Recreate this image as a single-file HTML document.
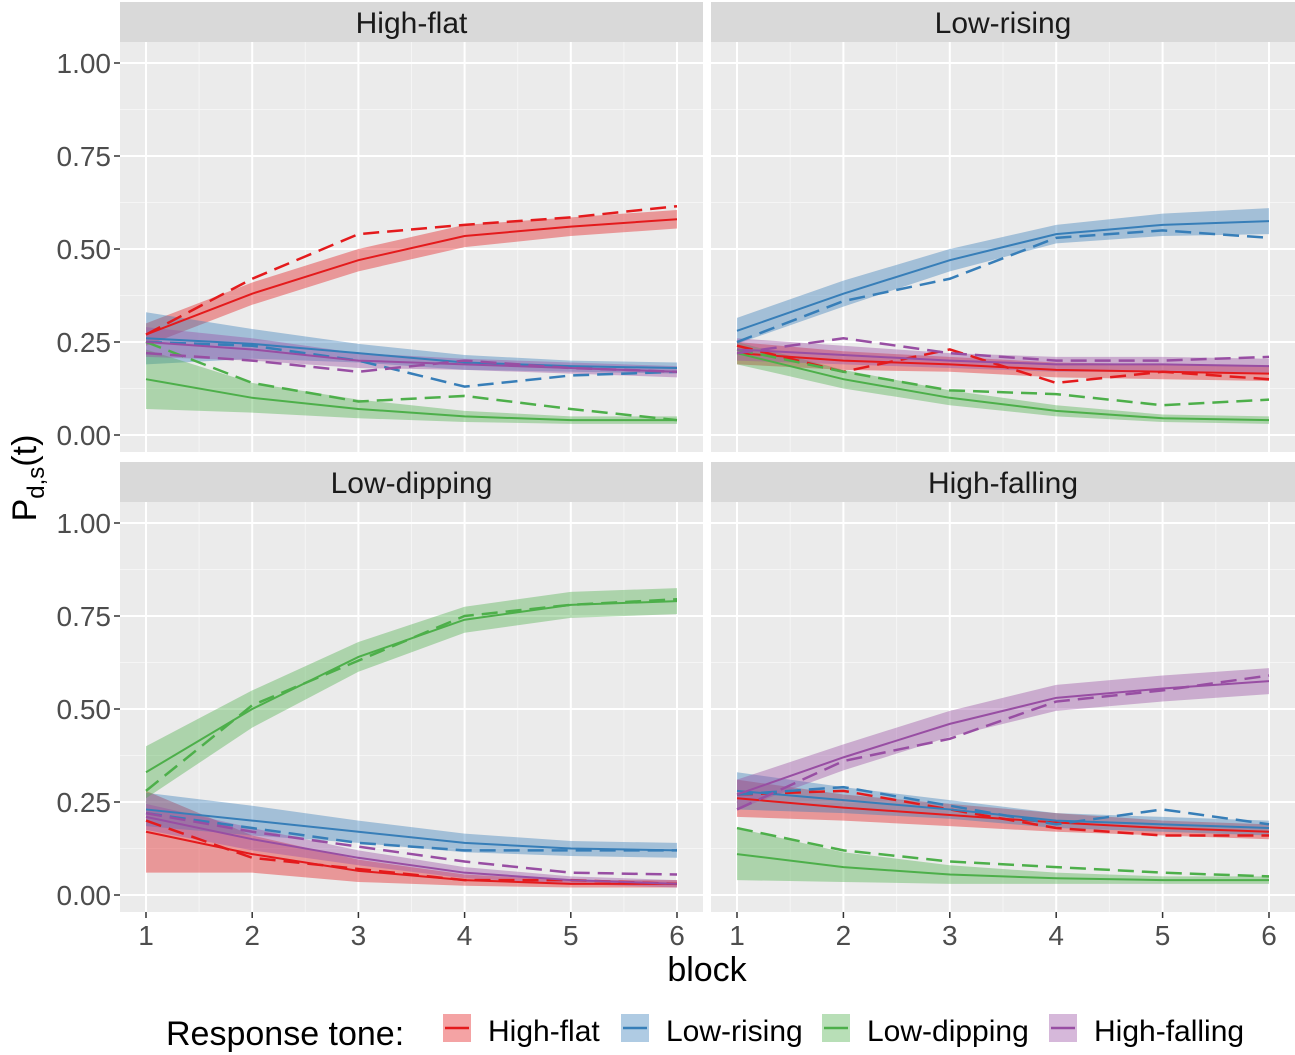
<!DOCTYPE html>
<html><head><meta charset="utf-8"><style>
body{margin:0;background:#fff;}
svg{display:block;font-family:"Liberation Sans",Arial,sans-serif;}
</style></head><body>
<svg id="c" width="1295" height="1055" xmlns="http://www.w3.org/2000/svg"></svg>
<script>
const blocks=[1,2,3,4,5,6];
const yTicks=[0,0.25,0.5,0.75,1];
const yTickLabels=["0.00","0.25","0.50","0.75","1.00"];
const panelTitles=["High-flat","Low-rising","Low-dipping","High-falling"];
const seriesNames=["High-flat","Low-rising","Low-dipping","High-falling"];
const colors=["#E41A1C","#377EB8","#4DAF4A","#984EA3"];
const model=[
 [[0.27,0.38,0.47,0.535,0.56,0.58],[0.26,0.245,0.22,0.195,0.185,0.18],[0.15,0.10,0.07,0.05,0.04,0.04],[0.25,0.23,0.20,0.19,0.18,0.17]],
 [[0.22,0.20,0.19,0.175,0.17,0.165],[0.28,0.38,0.47,0.54,0.565,0.575],[0.22,0.15,0.10,0.065,0.045,0.04],[0.23,0.215,0.20,0.19,0.19,0.185]],
 [[0.17,0.11,0.065,0.04,0.03,0.03],[0.23,0.20,0.17,0.14,0.125,0.12],[0.33,0.50,0.64,0.74,0.78,0.79],[0.21,0.15,0.10,0.06,0.04,0.03]],
 [[0.26,0.235,0.215,0.195,0.18,0.17],[0.28,0.255,0.23,0.20,0.19,0.18],[0.11,0.075,0.055,0.045,0.04,0.04],[0.27,0.37,0.46,0.53,0.555,0.575]]
];
const observed=[
 [[0.27,0.42,0.54,0.565,0.585,0.615],[0.25,0.24,0.20,0.13,0.16,0.17],[0.25,0.14,0.09,0.105,0.07,0.04],[0.22,0.20,0.17,0.20,0.18,0.17]],
 [[0.24,0.17,0.23,0.14,0.17,0.15],[0.25,0.36,0.42,0.53,0.55,0.53],[0.23,0.17,0.12,0.11,0.08,0.095],[0.22,0.26,0.22,0.20,0.20,0.21]],
 [[0.20,0.10,0.07,0.04,0.04,0.03],[0.22,0.18,0.14,0.12,0.12,0.12],[0.28,0.51,0.63,0.75,0.78,0.795],[0.22,0.17,0.13,0.09,0.06,0.055]],
 [[0.27,0.28,0.23,0.18,0.16,0.16],[0.27,0.29,0.24,0.19,0.23,0.19],[0.18,0.12,0.09,0.075,0.06,0.05],[0.23,0.36,0.42,0.52,0.55,0.59]]
];
const band=[
 [[0.03,0.03,0.03,0.03,0.025,0.025],[0.07,0.04,0.025,0.02,0.015,0.015],[0.08,0.04,0.025,0.015,0.01,0.01],[0.04,0.03,0.02,0.015,0.015,0.015]],
 [[0.03,0.025,0.02,0.02,0.02,0.02],[0.035,0.035,0.03,0.025,0.03,0.035],[0.03,0.025,0.02,0.015,0.01,0.01],[0.03,0.025,0.02,0.02,0.02,0.02]],
 [[0.11,0.05,0.03,0.015,0.01,0.01],[0.045,0.04,0.03,0.025,0.02,0.02],[0.07,0.05,0.04,0.035,0.035,0.035],[0.035,0.03,0.02,0.015,0.01,0.01]],
 [[0.05,0.035,0.03,0.025,0.02,0.02],[0.05,0.035,0.025,0.02,0.02,0.02],[0.07,0.04,0.025,0.015,0.01,0.01],[0.04,0.035,0.035,0.035,0.035,0.035]]
];
const svg=document.getElementById('c');
const NS="http://www.w3.org/2000/svg";
function mk(tag,attrs,parent){const e=document.createElementNS(NS,tag);for(const k in attrs)e.setAttribute(k,attrs[k]);(parent||svg).appendChild(e);return e;}
const panels=[{x0:120,x1:703,y0:42,y1:452},{x0:711,x1:1295,y0:42,y1:452},{x0:120,x1:703,y0:502,y1:912},{x0:711,x1:1295,y0:502,y1:912}];
panels.forEach((p,pi)=>{
 const xs=v=>p.x0+26+(v-1)*(p.x1-p.x0-52)/5;
 const ys=v=>p.y1-17-v*372;
 const g=mk('g',{});
 
 
 mk('rect',{x:p.x0,y:p.y0,width:p.x1-p.x0,height:p.y1-p.y0,fill:'#EBEBEB'},g);
 mk('rect',{x:p.x0,y:p.y0-40,width:p.x1-p.x0,height:40,fill:'#D9D9D9'},g);
 const tt=mk('text',{x:(p.x0+p.x1)/2,y:p.y0-9,'text-anchor':'middle','font-size':30,fill:'#1A1A1A'},g);
 tt.textContent=panelTitles[pi];
 
 
 for(let i=0;i<yTicks.length-1;i++){const v=(yTicks[i]+yTicks[i+1])/2;mk('line',{x1:p.x0,x2:p.x1,y1:ys(v),y2:ys(v),stroke:'#F5F5F5','stroke-width':1},g);}
 for(let i=0;i<blocks.length-1;i++){const v=blocks[i]+0.5;mk('line',{x1:xs(v),x2:xs(v),y1:p.y0,y2:p.y1,stroke:'#F5F5F5','stroke-width':1},g);}
 yTicks.forEach(v=>mk('line',{x1:p.x0,x2:p.x1,y1:ys(v),y2:ys(v),stroke:'#fff','stroke-width':2},g));
 blocks.forEach(v=>mk('line',{x1:xs(v),x2:xs(v),y1:p.y0,y2:p.y1,stroke:'#fff','stroke-width':2},g));
 for(let s=0;s<4;s++){
  const m=model[pi][s],b=band[pi][s];
  let d='M'+blocks.map((x,i)=>xs(x)+','+ys(m[i]+b[i])).join('L');
  d+='L'+blocks.slice().reverse().map((x,j)=>{const i=5-j;return xs(x)+','+ys(Math.max(0,m[i]-b[i]));}).join('L')+'Z';
  const r=mk('path',{d:d,fill:colors[s],'fill-opacity':0.4},g);
  
  
 }
 for(let s=0;s<4;s++){
  const m=model[pi][s],o=observed[pi][s];
  const l=mk('polyline',{points:blocks.map((x,i)=>xs(x)+','+ys(m[i])).join(' '),fill:'none',stroke:colors[s],'stroke-width':2},g);
  
  
  const dl=mk('polyline',{points:blocks.map((x,i)=>xs(x)+','+ys(o[i])).join(' '),fill:'none',stroke:colors[s],'stroke-width':2.5,'stroke-dasharray':'16,8'},g);
  
  
 }
 if(pi%2==0){
  yTicks.forEach((v,i)=>{
   mk('line',{x1:p.x0-6,x2:p.x0,y1:ys(v),y2:ys(v),stroke:'#333','stroke-width':1.5});
   const t=mk('text',{x:p.x0-9,y:ys(v)+10,'text-anchor':'end','font-size':28,fill:'#4D4D4D'});
   t.textContent=yTickLabels[i];
   
   
  });
 }
 if(pi>=2){
  blocks.forEach(v=>{
   mk('line',{x1:xs(v),x2:xs(v),y1:p.y1,y2:p.y1+6,stroke:'#333','stroke-width':1.5});
   const t=mk('text',{x:xs(v),y:p.y1+33,'text-anchor':'middle','font-size':28,fill:'#4D4D4D'});
   t.textContent=v;
   
   
  });
 }
});
const xt=mk('text',{x:707,y:981,'text-anchor':'middle','font-size':34,fill:'#000'});
xt.textContent='block';


const yt=mk('text',{transform:'translate(36,478) rotate(-90)','text-anchor':'middle','font-size':34,fill:'#000'});
yt.innerHTML='P<tspan font-size="24" dy="8">d,s</tspan><tspan dy="-8">(t)</tspan>';


const lt=mk('text',{x:166,y:1045,'font-size':34,fill:'#000'});
lt.textContent='Response tone:';


const legX=[443,621,822,1049];
seriesNames.forEach((n,i)=>{
 const g=mk('g',{});
 
 
 mk('rect',{x:legX[i],y:1014,width:28,height:28,fill:colors[i],'fill-opacity':0.4},g);
 mk('line',{x1:legX[i]+2,x2:legX[i]+26,y1:1028,y2:1028,stroke:colors[i],'stroke-width':2.5},g);
 const t=mk('text',{x:legX[i]+45,y:1041,'font-size':30,fill:'#000'},g);
 t.textContent=n;
});
</script>
</body></html>
